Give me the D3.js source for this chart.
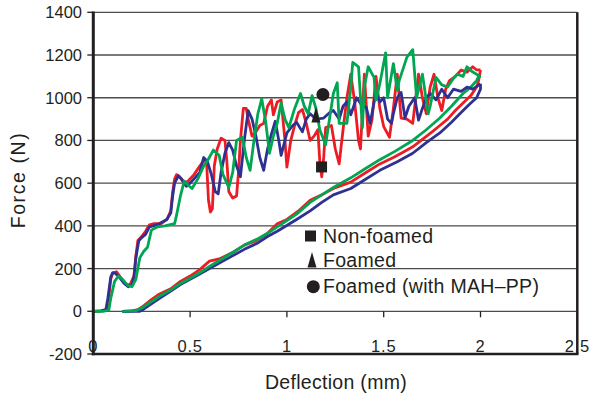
<!DOCTYPE html>
<html>
<head>
<meta charset="utf-8">
<script src="https://cdn.jsdelivr.net/npm/d3@7"></script>
<style>
  body { margin: 0; background: #fff; }
  text { font-family: "Liberation Sans", Arial, sans-serif; fill: #231f20; }
</style>
</head>
<body>
<div id="chart"></div>
<script>
var width = 595;
var height = 395;

// axis ticks
var xTicks = [0, 0.5, 1, 1.5, 2, 2.5];
var yTicks = [-200, 0, 200, 400, 600, 800, 1000, 1200, 1400];

// deflection (mm), force (N) -- loading then unloading for each sample
var redLoad = [[0,0],[0.04,2],[0.07,8],[0.08,60],[0.09,150],[0.1,180],[0.12,185],[0.14,160],[0.17,125],[0.19,125],[0.21,165],[0.22,260],[0.23,330],[0.25,350],[0.27,375],[0.29,405],[0.31,410],[0.35,410],[0.38,430],[0.4,470],[0.41,560],[0.42,620],[0.43,640],[0.45,625],[0.47,600],[0.49,610],[0.52,640],[0.55,680],[0.57,705],[0.585,700],[0.595,520],[0.605,465],[0.615,480],[0.625,680],[0.64,760],[0.66,810],[0.68,800],[0.69,700],[0.7,560],[0.72,530],[0.74,540],[0.75,650],[0.76,800],[0.775,950],[0.79,950],[0.8,900],[0.82,820],[0.84,840],[0.86,870],[0.88,880],[0.9,960],[0.92,990],[0.93,920],[0.95,980],[0.97,990],[0.99,800],[1.0,675],[1.02,800],[1.04,870],[1.06,930],[1.08,945],[1.1,880],[1.12,800],[1.14,820],[1.16,850],[1.17,700],[1.18,630],[1.19,720],[1.2,860],[1.23,870],[1.25,760],[1.27,690],[1.29,850],[1.31,1000],[1.33,1110],[1.35,980],[1.37,800],[1.38,760],[1.4,1110],[1.42,820],[1.44,900],[1.46,1100],[1.48,950],[1.5,865],[1.53,815],[1.55,950],[1.57,1110],[1.59,905],[1.62,900],[1.65,880],[1.68,1110],[1.7,1000],[1.72,925],[1.74,1050],[1.76,1110],[1.78,1000],[1.8,940],[1.82,1040],[1.84,1080],[1.87,1100],[1.9,1130],[1.93,1120],[1.96,1145],[1.98,1130],[2.0,1130]];
var redUnload = [[2.0,1130],[1.99,1080],[1.98,1050],[1.95,1010],[1.91,975],[1.87,940],[1.83,900],[1.79,870],[1.75,840],[1.7,805],[1.65,770],[1.6,745],[1.55,720],[1.48,690],[1.4,645],[1.33,605],[1.24,575],[1.18,545],[1.12,520],[1.06,470],[1.0,430],[0.95,410],[0.9,365],[0.84,330],[0.78,310],[0.72,275],[0.65,245],[0.6,235],[0.55,195],[0.5,165],[0.45,140],[0.4,105],[0.34,80],[0.3,55],[0.26,25],[0.23,8],[0.2,2],[0.15,0]];

var blueLoad = [[0,0],[0.04,2],[0.065,8],[0.075,60],[0.09,160],[0.1,180],[0.11,180],[0.13,165],[0.16,130],[0.18,115],[0.2,125],[0.21,160],[0.22,250],[0.235,330],[0.25,345],[0.27,360],[0.29,395],[0.31,400],[0.34,410],[0.38,430],[0.4,460],[0.41,540],[0.42,600],[0.44,635],[0.46,615],[0.48,585],[0.5,600],[0.53,630],[0.55,650],[0.57,720],[0.59,700],[0.61,640],[0.63,560],[0.645,550],[0.66,650],[0.68,740],[0.7,790],[0.72,755],[0.74,680],[0.76,630],[0.78,800],[0.8,940],[0.82,900],[0.84,820],[0.86,720],[0.88,660],[0.9,760],[0.92,830],[0.94,890],[0.96,790],[0.97,730],[0.99,800],[1.0,835],[1.03,870],[1.05,885],[1.08,840],[1.1,900],[1.12,925],[1.15,900],[1.19,905],[1.22,930],[1.24,940],[1.27,900],[1.29,960],[1.31,980],[1.33,920],[1.36,1000],[1.39,960],[1.41,955],[1.43,880],[1.46,1025],[1.48,980],[1.5,1000],[1.52,900],[1.54,880],[1.55,925],[1.57,1000],[1.59,1025],[1.61,905],[1.63,960],[1.66,1000],[1.68,895],[1.7,950],[1.72,1000],[1.74,1020],[1.77,990],[1.8,1040],[1.83,1000],[1.86,1040],[1.9,1030],[1.93,1050],[1.96,1040],[2.0,1065]];
var blueUnload = [[2.0,1065],[2.0,1040],[1.98,1000],[1.95,975],[1.91,940],[1.85,885],[1.79,835],[1.72,790],[1.65,740],[1.57,700],[1.48,660],[1.4,615],[1.33,575],[1.24,545],[1.18,510],[1.12,470],[1.05,430],[0.95,375],[0.9,350],[0.85,320],[0.78,290],[0.7,250],[0.6,200],[0.55,175],[0.5,150],[0.45,125],[0.4,95],[0.35,65],[0.3,35],[0.26,10],[0.24,0],[0.15,0]];

var greenLoad = [[0,0],[0.05,0],[0.08,5],[0.09,60],[0.11,140],[0.13,165],[0.15,150],[0.18,120],[0.2,115],[0.22,150],[0.24,250],[0.26,280],[0.28,300],[0.3,380],[0.33,395],[0.37,400],[0.42,410],[0.43,450],[0.45,540],[0.47,610],[0.49,590],[0.51,575],[0.54,620],[0.57,680],[0.59,705],[0.62,755],[0.65,730],[0.67,640],[0.7,580],[0.72,650],[0.74,800],[0.77,815],[0.79,720],[0.81,660],[0.83,800],[0.85,925],[0.87,995],[0.89,890],[0.91,740],[0.93,820],[0.95,880],[0.97,975],[0.99,900],[1.01,860],[1.04,950],[1.07,1020],[1.09,960],[1.11,925],[1.13,1010],[1.15,950],[1.17,850],[1.2,780],[1.22,900],[1.24,1020],[1.26,1070],[1.27,880],[1.31,880],[1.33,1050],[1.34,1165],[1.37,1145],[1.39,860],[1.4,1050],[1.42,1145],[1.45,1095],[1.46,990],[1.48,1065],[1.51,1210],[1.52,1000],[1.55,1160],[1.57,1035],[1.58,1080],[1.62,1190],[1.65,1225],[1.67,1000],[1.7,1110],[1.73,925],[1.74,960],[1.77,1095],[1.8,1060],[1.83,1050],[1.86,1090],[1.88,1110],[1.91,1100],[1.93,1145],[1.96,1120],[1.98,1110],[2.0,1095]];
var greenUnload = [[2.0,1095],[1.99,1100],[1.98,1080],[1.95,1050],[1.91,1020],[1.85,960],[1.79,905],[1.72,850],[1.65,800],[1.56,750],[1.48,710],[1.4,665],[1.33,625],[1.24,580],[1.18,545],[1.12,510],[1.05,455],[1.0,425],[0.95,395],[0.9,365],[0.85,340],[0.78,310],[0.7,265],[0.6,210],[0.55,180],[0.5,155],[0.45,130],[0.4,100],[0.35,75],[0.3,45],[0.25,15],[0.22,3],[0.15,0]];

// failure markers
var markerNames = ["Non-foamed", "Foamed", "Foamed (with MAH\u2013PP)"];
var markerShapes = ["square", "triangle", "circle"];
var markerX = [1.179, 1.150, 1.186];
var markerY = [676, 919, 1015];

var series = [
  {color: "#ec1c24", load: redLoad, unload: redUnload},
  {color: "#2e3192", load: blueLoad, unload: blueUnload},
  {color: "#00a651", load: greenLoad, unload: greenUnload}
];

var xScale = d3.scaleLinear()
  .domain([0, 2.5])
  .range([93.3, 577.3]);

var yScale = d3.scaleLinear()
  .domain([-200, 1400])
  .range([354, 12.3]);

var svg = d3.select("#chart")
  .append("svg")
  .attr("width", width)
  .attr("height", height);

var grid = svg.append("g");
var plot = svg.append("g");
var frame = svg.append("g");
var legend = svg.append("g");

// grid ----------------------------------------------------------
grid.selectAll("line")
  .data(yTicks.filter(function(d) { return d > -200; }))
  .enter()
  .append("line")
    .attr("x1", xScale(0))
    .attr("x2", xScale(2.5))
    .attr("y1", function(d) { return yScale(d); })
    .attr("y2", function(d) { return yScale(d); })
    .attr("stroke", "#4d4d4d")
    .attr("stroke-width", 1.3);

// x tick marks hang under the zero line
grid.selectAll(".xt")
  .data(xTicks)
  .enter()
  .append("line")
    .attr("class", "xt")
    .attr("x1", function(d) { return xScale(d); })
    .attr("x2", function(d) { return xScale(d); })
    .attr("y1", yScale(0))
    .attr("y2", yScale(0) + 6)
    .attr("stroke", "#231f20")
    .attr("stroke-width", 1.3);

// curves --------------------------------------------------------
var line = d3.line()
  .x(function(d) { return xScale(d[0]); })
  .y(function(d) { return yScale(d[1]); });

series.forEach(function(s) {
  plot.append("path")
    .attr("d", line(s.unload))
    .attr("fill", "none")
    .attr("stroke", s.color)
    .attr("stroke-width", 2.8)
    .attr("stroke-linejoin", "round");
});
series.forEach(function(s) {
  plot.append("path")
    .attr("d", line(s.load))
    .attr("fill", "none")
    .attr("stroke", s.color)
    .attr("stroke-width", 2.8)
    .attr("stroke-linejoin", "round");
});

// frame and axes ------------------------------------------------
frame.append("line")
  .attr("x1", xScale(2.5)).attr("x2", xScale(2.5))
  .attr("y1", yScale(1400)).attr("y2", yScale(-200))
  .attr("stroke", "#231f20").attr("stroke-width", 2.5);
frame.append("line")
  .attr("x1", xScale(0) - 1.5).attr("x2", xScale(2.5) + 1.2)
  .attr("y1", yScale(-200)).attr("y2", yScale(-200))
  .attr("stroke", "#231f20").attr("stroke-width", 2.6);
frame.append("line")
  .attr("x1", xScale(0)).attr("x2", xScale(0))
  .attr("y1", yScale(1400) - 0.7).attr("y2", yScale(-200) + 1.3)
  .attr("stroke", "#231f20").attr("stroke-width", 3);

frame.selectAll(".yt")
  .data(yTicks)
  .enter()
  .append("line")
    .attr("class", "yt")
    .attr("x1", xScale(0) - 6)
    .attr("x2", xScale(0))
    .attr("y1", function(d) { return yScale(d); })
    .attr("y2", function(d) { return yScale(d); })
    .attr("stroke", "#231f20")
    .attr("stroke-width", 1.3);

frame.selectAll(".ylab")
  .data(yTicks)
  .enter()
  .append("text")
    .attr("class", "ylab")
    .attr("x", 82)
    .attr("y", function(d) { return yScale(d) + 6; })
    .attr("text-anchor", "end")
    .attr("font-size", 16.5)
    .text(function(d) { return d; });

frame.selectAll(".xlab")
  .data(xTicks)
  .enter()
  .append("text")
    .attr("class", "xlab")
    .attr("x", function(d) { return xScale(d); })
    .attr("y", 352)
    .attr("text-anchor", "middle")
    .attr("font-size", 16.5)
    .attr("letter-spacing", 0.8)
    .text(function(d) { return d; });

frame.append("text")
  .attr("x", 336)
  .attr("y", 389)
  .attr("text-anchor", "middle")
  .attr("font-size", 19.5)
  .attr("letter-spacing", 0.3)
  .text("Deflection (mm)");

frame.append("text")
  .attr("transform", "translate(25,180) rotate(-90)")
  .attr("text-anchor", "middle")
  .attr("font-size", 19.5)
  .attr("letter-spacing", 1.6)
  .text("Force (N)");

// markers -------------------------------------------------------
function drawMarker(g, shape, cx, cy) {
  if (shape == "square") {
    g.append("rect")
      .attr("x", cx - 5.5).attr("y", cy - 5.5)
      .attr("width", 11).attr("height", 11)
      .attr("fill", "#231f20");
  } else if (shape == "triangle") {
    g.append("path")
      .attr("d", "M" + cx + "," + (cy - 8) + "L" + (cx + 4.5) + "," + (cy + 7.5) + "L" + (cx - 4.5) + "," + (cy + 7.5) + "Z")
      .attr("fill", "#231f20");
  } else {
    g.append("circle")
      .attr("cx", cx).attr("cy", cy).attr("r", 6.5)
      .attr("fill", "#231f20");
  }
}

markerShapes.forEach(function(shape, i) {
  drawMarker(plot, shape, xScale(markerX[i]), yScale(markerY[i]));
});

// legend --------------------------------------------------------
var legendX = [310.5, 312, 313.3];
var legendY = [236, 260, 286.7];
markerNames.forEach(function(name, i) {
  drawMarker(legend, markerShapes[i], legendX[i], legendY[i]);
  legend.append("text")
    .attr("x", 323)
    .attr("y", legendY[i] + 6.5)
    .attr("font-size", 19.5)
    .attr("letter-spacing", 0.3)
    .text(name);
});
</script>
</body>
</html>
